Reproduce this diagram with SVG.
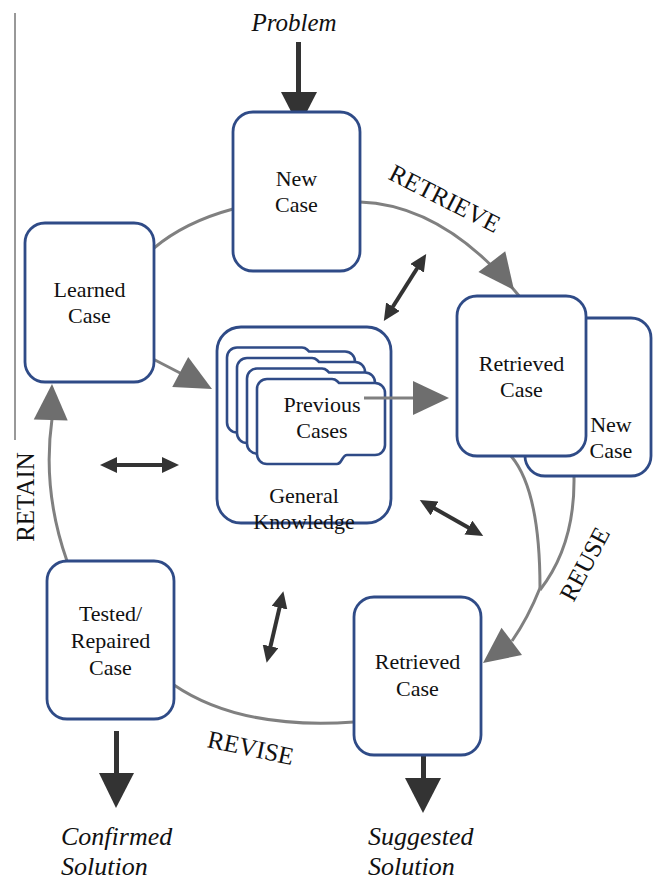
<svg xmlns="http://www.w3.org/2000/svg" xmlns:xlink="http://www.w3.org/1999/xlink" width="654" height="879" viewBox="0 0 654 879" font-family="Liberation Serif, DejaVu Serif, serif">
<style>
.box{fill:#fff;stroke:#2f4b87;stroke-width:2.8}
.card{fill:#fff;stroke:#2f4b87;stroke-width:2.6}
.arc{fill:none;stroke:#808080;stroke-width:3}
.gh{fill:#6e6e6e}
.dk{fill:#333}
.dbl{stroke:#333;stroke-width:4;fill:none;marker-start:url(#dh);marker-end:url(#dh)}
text{font-family:"Liberation Serif",serif}
.t{font-size:22px;text-anchor:middle;fill:#111}
.it{font-size:26px;font-style:italic;fill:#111}
.lab{font-size:25px;text-anchor:middle;fill:#111}
</style>
<defs>
<polygon id="ghead" points="0,0 -36,-17 -36,17"/>
<marker id="dh" markerUnits="userSpaceOnUse" markerWidth="18" markerHeight="16" refX="11" refY="8" orient="auto-start-reverse"><path d="M0,0 L17,8 L0,16 z" fill="#333"/></marker>
<path id="cardshape" d="M10,0 H75 Q78,0 80,2 L82,4 H118 A10,10 0 0 1 128,14 V66 A10,10 0 0 1 118,76 H90 C85,76 85,85 80,85 H10 A10,10 0 0 1 0,75 V10 A10,10 0 0 1 10,0 Z"/>
</defs>
<rect width="654" height="879" fill="#fff"/>
<line x1="15" y1="13" x2="15" y2="440" stroke="#333" stroke-width="1"/>

<g id="connectors">
  <path class="arc" d="M154,248 Q185,222 233,209"/>
  <path class="arc" d="M360,202 Q445,205 520,297"/>
  <use href="#ghead" class="gh" transform="translate(514,290) rotate(52)"/>
  <path class="arc" d="M511,456 Q540,490 540,588"/>
  <path class="arc" d="M574,477 Q575,545 540,590"/>
  <path class="arc" d="M540,588 Q528,618 512,641"/>
  <use href="#ghead" class="gh" transform="translate(483,663) rotate(143)"/>
  <path class="arc" d="M174,685 Q240,730 354,722"/>
  <path class="arc" d="M67,561 Q42,490 52,419"/>
  <use href="#ghead" class="gh" transform="translate(52,384) rotate(-88)"/>
  <path class="arc" d="M153,359 L182,374"/>
  <use href="#ghead" class="gh" transform="translate(212,389) rotate(28)"/>
  <line x1="387" y1="316" x2="423" y2="259" class="dbl"/>
  <line x1="106" y1="465" x2="173" y2="465" class="dbl"/>
  <line x1="425" y1="503" x2="478" y2="533" class="dbl"/>
  <line x1="282" y1="597" x2="268" y2="657" class="dbl"/>
  <rect x="296" y="42" width="5" height="52" class="dk"/>
  <polygon points="281,92 317,92 299,127" class="dk"/>
  <rect x="114" y="731" width="5" height="44" class="dk"/>
  <polygon points="99,773 134,773 116,808" class="dk"/>
  <rect x="421" y="751" width="5" height="29" class="dk"/>
  <polygon points="405,778 441,778 423,813" class="dk"/>
</g>

<g id="new-case">
  <rect class="box" x="233" y="112" width="127" height="159" rx="20"/>
  <text class="t" x="296.5" y="186" font-family="Liberation Serif">New</text>
  <text class="t" x="296.5" y="212" font-family="Liberation Serif">Case</text>
</g>
<g id="learned-case">
  <rect class="box" x="25" y="223" width="129" height="159" rx="20"/>
  <text class="t" x="89.5" y="297" font-family="Liberation Serif">Learned</text>
  <text class="t" x="89.5" y="323" font-family="Liberation Serif">Case</text>
</g>
<g id="new-case-behind">
  <rect class="box" x="525" y="318" width="126" height="158" rx="20"/>
  <text class="t" x="611" y="432" font-family="Liberation Serif">New</text>
  <text class="t" x="611" y="458" font-family="Liberation Serif">Case</text>
</g>
<g id="retrieved-case-top">
  <rect class="box" x="457" y="296" width="129" height="160" rx="20"/>
  <text class="t" x="521.5" y="371" font-family="Liberation Serif">Retrieved</text>
  <text class="t" x="521.5" y="397" font-family="Liberation Serif">Case</text>
</g>
<g id="general-knowledge">
  <rect class="box" x="217" y="327" width="174" height="196" rx="24"/>
  <text class="t" x="304" y="503" font-family="Liberation Serif">General</text>
  <text class="t" x="304" y="529" font-family="Liberation Serif">Knowledge</text>
</g>
<g id="previous-cases">
  <use href="#cardshape" class="card" transform="translate(227,347.5)"/>
  <use href="#cardshape" class="card" transform="translate(237,358)"/>
  <use href="#cardshape" class="card" transform="translate(247,368.5)"/>
  <use href="#cardshape" class="card" transform="translate(257,379)"/>
  <text class="t" x="322" y="412" font-family="Liberation Serif">Previous</text>
  <text class="t" x="322" y="438" font-family="Liberation Serif">Cases</text>
</g>
<g id="gk-to-retrieved">
  <path class="arc" d="M364,398 L416,398"/>
  <use href="#ghead" class="gh" transform="translate(449,398)"/>
</g>
<g id="tested-case">
  <rect class="box" x="47" y="561" width="127" height="158" rx="20"/>
  <text class="t" x="110.5" y="621" font-family="Liberation Serif">Tested/</text>
  <text class="t" x="110.5" y="648" font-family="Liberation Serif">Repaired</text>
  <text class="t" x="110.5" y="675" font-family="Liberation Serif">Case</text>
</g>
<g id="retrieved-case-bottom">
  <rect class="box" x="354" y="597" width="127" height="158" rx="20"/>
  <text class="t" x="417.5" y="669" font-family="Liberation Serif">Retrieved</text>
  <text class="t" x="417.5" y="696" font-family="Liberation Serif">Case</text>
</g>

<g id="labels" font-family="Liberation Serif">
  <text class="it" x="294" y="31" text-anchor="middle" style="font-size:25px">Problem</text>
  <text class="it" x="61" y="845">Confirmed</text>
  <text class="it" x="61" y="875">Solution</text>
  <text class="it" x="368" y="845">Suggested</text>
  <text class="it" x="368" y="875">Solution</text>
  <text class="lab" transform="translate(441,206) rotate(27)">RETRIEVE</text>
  <text class="lab" transform="translate(592,568) rotate(-62)">REUSE</text>
  <text class="lab" transform="translate(249,756) rotate(12)">REVISE</text>
  <text class="lab" transform="translate(34,497) rotate(-90)">RETAIN</text>
</g>
</svg>
